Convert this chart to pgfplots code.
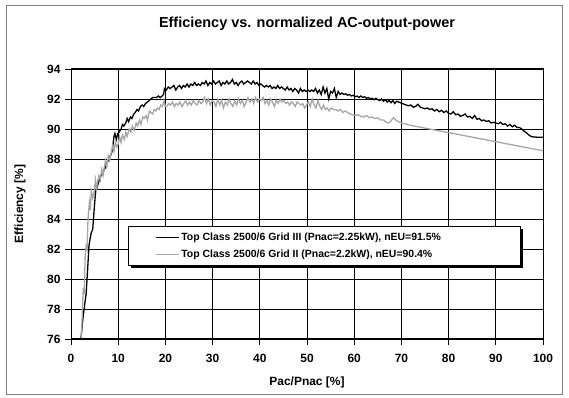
\documentclass[border=0pt]{standalone}
\usepackage{fontspec}
\setmainfont{Liberation Sans}
\usepackage{pgfplots}
\pgfplotsset{compat=1.18}
\definecolor{seriesgray}{RGB}{166,166,166}
\begin{document}
\begin{tikzpicture}[x=1bp,y=1bp]
\useasboundingbox (0,0) rectangle (569,397);
\draw[draw={rgb,255:red,128;green,128;blue,128},line width=0.8bp] (6.5,2.5) rectangle (562.5,392);
\begin{axis}[
  at={(71bp,58bp)}, anchor=origin,
  scale only axis, width=472bp, height=270bp,
  xmin=0, xmax=100, ymin=76, ymax=94,
  xtick={0,10,...,100}, ytick={76,78,...,94},
  grid=major,
  major grid style={black, line width=0.7bp},
  axis line style={black, line width=1bp},
  tick pos=left, tick align=outside,
  major tick length=6bp,
  tick style={black, line width=0.8bp},
  /pgf/number format/assume math mode=true,
  every tick label/.append style={font=\fontsize{12}{14}\selectfont\bfseries},
  xticklabel style={yshift=-6bp},
  yticklabel style={xshift=-1bp},
  title={Efficiency vs. normalized AC-output-power},
  title style={font=\fontsize{14.5}{17}\selectfont\bfseries, at={(rel axis cs:0.5,1.144)}, anchor=center},
  xlabel={Pac/Pnac [\%]},
  xlabel style={font=\fontsize{12}{14}\selectfont\bfseries, at={(rel axis cs:0.5,-0.159)}, anchor=center},
  ylabel={Efficiency [\%]},
  ylabel style={font=\fontsize{12}{14}\selectfont\bfseries, at={(rel axis cs:-0.108,0.5)}, anchor=center, rotate=0},
  legend style={name=leg, at={(rel axis cs:0.1208,0.4185)}, anchor=north west,
    font=\fontsize{10.5}{12}\selectfont\bfseries,
    draw=black, line width=0.8bp, fill=white,
    inner xsep=27bp, inner ysep=4.5bp, row sep=4bp},
  legend cell align=left,
  legend image code/.code={\draw[#1, line width=0.9bp] (0bp,0bp) -- (23bp,0bp);},
]
\addplot[black, line width=1.3bp] coordinates {
(2.1,76.0) (2.5,77.3) (2.9,78.3) (3.2,79.0) (3.5,80.5) (3.8,82.2) (4.0,82.6) (4.3,83.1) (4.6,83.3) (4.9,84.6)
(5.2,85.8) (5.5,86.1) (5.8,86.4) (6.1,86.7) (6.4,86.9) (6.7,87.0) (7.0,87.3) (7.3,87.4) (7.6,87.8) (8.0,87.9)
(8.3,88.2) (8.6,88.4) (8.8,88.7) (9.1,89.5) (9.3,89.7) (9.6,89.3) (9.9,89.7) (10.2,89.8) (10.6,90.0) (10.9,90.3)
(11.2,90.2) (11.6,90.4) (11.9,90.7) (12.2,90.5) (12.6,90.8) (12.9,90.7) (13.3,91.0) (13.6,91.1) (14.0,91.3) (14.3,91.2)
(14.7,91.5) (15.1,91.6) (15.4,91.5) (15.8,91.7) (16.2,91.8) (16.6,91.9) (16.9,92.0) (17.3,92.1) (17.7,92.1) (18.1,92.1)
(18.5,92.2) (18.9,92.1) (19.3,92.2) (19.6,92.3) (19.8,92.7) (20.2,92.6) (20.6,92.8) (21.0,92.7) (21.4,92.8) (21.8,92.9)
(22.2,92.6) (22.6,92.8) (23.0,92.9) (23.4,92.7) (23.8,92.9) (24.2,92.8) (24.6,93.0) (25.0,92.8) (25.4,93.0) (25.8,92.9)
(26.2,93.1) (26.6,92.9) (27.0,93.0) (27.4,92.9) (27.8,93.1) (28.2,93.0) (28.6,93.2) (29.0,92.9) (29.4,93.1) (29.8,93.0)
(30.2,93.2) (30.6,93.0) (31.0,93.1) (31.4,93.2) (31.8,92.9) (32.2,93.1) (32.6,93.0) (33.0,93.2) (33.4,93.0) (33.8,93.1)
(34.2,93.3) (34.6,93.0) (35.0,93.1) (35.4,92.9) (35.8,93.1) (36.2,93.2) (36.6,93.0) (37.0,93.1) (37.4,93.2) (37.8,93.1)
(38.2,93.0) (38.6,93.2) (39.0,93.0) (39.4,93.1) (39.8,92.9) (40.2,93.0) (40.6,92.9) (41.0,92.8) (41.4,92.9) (41.8,92.8)
(42.2,92.9) (42.6,92.7) (43.0,92.8) (43.4,92.7) (43.8,92.9) (44.2,92.7) (44.6,92.8) (45.0,92.7) (45.4,92.6) (45.8,92.8)
(46.2,92.6) (46.6,92.7) (47.0,92.5) (47.4,92.7) (47.8,92.6) (48.2,92.4) (48.6,92.7) (49.0,92.5) (49.4,92.6) (49.8,92.5)
(50.2,92.6) (50.6,92.5) (51.0,92.6) (51.4,92.5) (51.8,92.7) (52.2,92.4) (52.6,92.6) (53.0,92.3) (53.4,92.8) (53.8,92.4)
(54.2,92.7) (54.6,92.0) (55.0,92.5) (55.4,92.4) (55.8,92.7) (56.2,92.1) (56.6,92.5) (57.0,92.3) (57.4,92.4) (57.8,92.3)
(58.2,92.35) (58.6,92.25) (59.0,92.3) (59.4,92.2) (59.8,92.25) (60.2,92.15) (60.6,92.2) (61.0,92.1) (61.4,92.2) (61.8,92.1)
(62.2,92.15) (62.6,92.05) (63.0,92.1) (63.4,92.0) (63.8,92.05) (64.2,91.95) (64.6,92.05) (65.0,91.95) (65.4,91.9) (65.8,92.0)
(66.2,91.85) (66.6,91.95) (67.0,91.8) (67.4,91.9) (67.8,91.75) (68.2,91.9) (68.6,91.7) (69.0,91.85) (69.4,91.8) (69.8,91.75)
(70.2,91.7) (70.6,91.65) (71.0,91.6) (71.5,91.55) (72.0,91.6) (72.5,91.45) (73.0,91.5) (73.5,91.65) (74.0,91.45) (74.5,91.4)
(75.0,91.35) (75.5,91.4) (76.0,91.3) (76.5,91.35) (77.0,91.2) (77.5,91.3) (78.0,91.15) (78.5,91.25) (79.0,91.1) (79.5,91.2)
(80.0,91.05) (80.5,91.0) (81.0,91.15) (81.5,90.95) (82.0,91.0) (82.5,90.85) (83.0,90.9) (83.5,91.0) (84.0,90.8) (84.5,90.85)
(85.0,90.7) (85.5,90.9) (86.0,90.65) (86.5,90.7) (87.0,90.55) (87.5,90.6) (88.0,90.5) (88.5,90.55) (89.0,90.4) (89.5,90.45)
(90.0,90.4) (90.5,90.35) (91.0,90.45) (91.5,90.3) (92.0,90.35) (92.5,90.2) (93.0,90.3) (93.5,90.15) (94.0,90.25) (94.5,90.1)
(95.0,90.1) (95.5,90.0) (96.0,89.85) (96.5,89.75) (97.0,89.6) (97.5,89.5) (98.0,89.47) (99.0,89.45) (100.0,89.45)
};
\addlegendentry{\makebox[310bp][l]{Top Class 2500/6 Grid III (Pnac=2.25kW), nEU=91.5\%}}
\addplot[seriesgray, line width=1.3bp] coordinates {
(2.2,76.0) (2.4,77.8) (2.6,79.4) (2.8,79.0) (3.0,81.5) (3.2,82.2) (3.4,82.0) (3.6,84.0) (3.9,85.1) (4.1,84.6)
(4.3,85.9) (4.6,85.4) (4.9,85.8) (5.2,86.6) (5.4,86.0) (5.6,86.4) (5.9,86.9) (6.2,86.6) (6.5,87.3) (6.8,86.9)
(7.0,87.3) (7.3,87.9) (7.6,87.5) (7.9,88.2) (8.2,87.9) (8.5,88.4) (8.8,88.9) (9.1,88.5) (9.4,89.1) (9.7,88.8)
(10.0,89.0) (10.3,89.5) (10.6,89.1) (10.9,89.6) (11.3,89.3) (11.6,89.8) (11.9,89.5) (12.3,90.0) (12.7,89.8) (13.0,90.2)
(13.4,89.9) (13.8,90.4) (14.1,90.2) (14.5,90.6) (14.8,90.3) (15.2,90.8) (15.5,90.7) (15.9,90.9) (16.2,90.6) (16.6,91.2)
(16.9,91.1) (17.3,91.0) (17.6,91.3) (18.0,91.2) (18.3,91.4) (18.7,91.3) (19.0,91.6) (19.4,91.5) (19.7,91.9) (20.0,91.5)
(20.3,91.5) (20.7,91.7) (21.1,91.6) (21.5,91.8) (21.9,91.5) (22.3,91.7) (22.7,91.6) (23.1,91.8) (23.5,91.5) (23.9,91.7)
(24.3,91.9) (24.7,91.6) (25.1,91.8) (25.5,91.6) (25.9,91.9) (26.3,91.7) (26.7,91.6) (27.1,91.9) (27.5,91.7) (27.9,91.8)
(28.3,92.1) (28.7,91.7) (29.1,92.0) (29.5,91.6) (29.9,91.9) (30.3,91.8) (30.7,91.5) (31.1,92.0) (31.5,91.6) (31.9,91.9)
(32.3,91.4) (32.7,91.8) (33.1,91.6) (33.5,92.0) (33.9,91.7) (34.3,91.5) (34.7,91.9) (35.1,91.6) (35.5,92.0) (35.9,91.7)
(36.3,91.9) (36.7,91.5) (37.1,91.8) (37.5,92.1) (37.9,91.8) (38.3,92.0) (38.7,91.7) (39.1,92.1) (39.5,91.8) (39.9,92.0)
(40.3,91.9) (40.7,92.1) (41.1,91.7) (41.5,91.9) (41.9,91.6) (42.3,92.0) (42.7,91.8) (43.1,91.5) (43.5,91.9) (43.9,91.7)
(44.3,92.0) (44.7,91.8) (45.1,91.9) (45.5,91.7) (45.9,91.8) (46.3,91.6) (46.7,91.8) (47.1,91.7) (47.5,91.5) (47.9,91.8)
(48.3,91.7) (48.7,91.6) (49.1,91.7) (49.5,91.4) (49.9,91.6) (50.3,91.8) (50.7,91.5) (51.1,92.0) (51.5,91.6) (51.9,91.4)
(52.3,91.9) (52.7,91.5) (53.1,91.3) (53.5,91.6) (53.9,91.3) (54.3,91.4) (54.7,91.2) (55.1,91.4) (55.6,91.3) (56.1,91.3)
(56.6,91.2) (57.1,91.3) (57.6,91.1) (58.1,91.2) (58.6,91.1) (59.1,91.0) (59.6,90.95) (60.2,90.9) (60.8,90.95) (61.4,90.85)
(62.0,90.8) (62.6,90.9) (63.2,90.75) (63.8,90.8) (64.4,90.7) (65.0,90.75) (65.6,90.6) (66.2,90.6) (66.8,90.45) (67.3,90.4)
(67.8,90.55) (68.3,90.75) (68.8,90.6) (69.3,90.5) (70.0,90.4) (70.8,90.35) (71.5,90.28) (72.0,90.24) (100.0,88.55)
};
\addlegendentry{\makebox[310bp][l]{Top Class 2500/6 Grid II (Pnac=2.2kW), nEU=90.4\%}}
\draw[black, line width=2bp] (rel axis cs:0,1) -- (rel axis cs:0,0) -- (rel axis cs:1,0);
\end{axis}
\fill[black] ([shift={(2.5bp,-2.5bp)}]leg.south west) rectangle ([shift={(2.5bp,0bp)}]leg.south east);
\fill[black] ([shift={(0bp,-2.5bp)}]leg.south east) rectangle ([shift={(2.5bp,-2.5bp)}]leg.north east);
\end{tikzpicture}
\end{document}
